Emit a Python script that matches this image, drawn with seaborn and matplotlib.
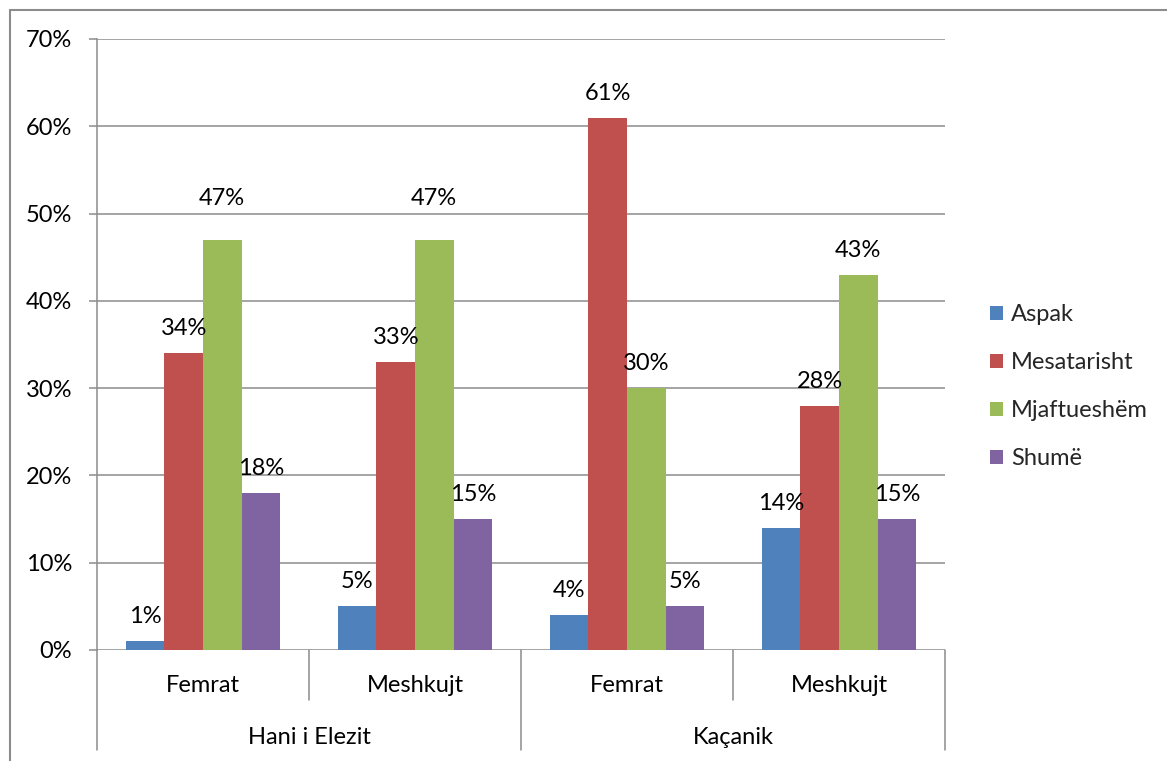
import matplotlib
matplotlib.use("Agg")
import matplotlib.pyplot as plt
from matplotlib.lines import Line2D
from matplotlib.patches import Patch
from matplotlib.ticker import PercentFormatter
import pandas as pd
import seaborn as sns

# Survey answers, percent of respondents
places = ["Hani i Elezit", "Kaçanik"]
genders = ["Femrat", "Meshkujt"]
answers = ["Aspak", "Mesatarisht", "Mjaftueshëm", "Shumë"]
aspak = [1, 5, 4, 14]
mesatarisht = [34, 33, 61, 28]
mjaftueshem = [47, 47, 30, 43]
shume = [18, 15, 5, 15]
y_ticks = [0, 10, 20, 30, 40, 50, 60, 70]

colors = ["#4F81BD", "#C0504D", "#9BBB59", "#8064A2"]
grid_gray = "#8C8C8C"

# long-form table: one row per bar
keys = [f"{p} | {g}" for p in places for g in genders]
rows = []
for ans, vals in zip(answers, [aspak, mesatarisht, mjaftueshem, shume]):
    for k, v in zip(keys, vals):
        rows.append({"key": k, "answer": ans, "value": v})
df = pd.DataFrame(rows)

sns.set_theme(style="white")
plt.rcParams["font.family"] = ["Lato", "DejaVu Sans"]
FS = 17

fig = plt.figure(figsize=(11.67, 7.61), dpi=100)
W, H = 1167, 761
ax = fig.add_axes([97 / W, 1 - 650 / H, (945 - 97) / W, (650 - 39) / H])

sns.barplot(data=df, x="key", y="value", hue="answer", order=keys,
            hue_order=answers, palette=colors, width=0.727, saturation=1,
            linewidth=0, ax=ax, legend=False)

ax.set_xlim(-0.5, len(keys) - 0.5)
ax.set_ylim(0, 70)
ax.set_yticks(y_ticks)
ax.yaxis.set_major_formatter(PercentFormatter(decimals=0))
ax.set_xlabel("")
ax.set_ylabel("")
ax.set_xticks([])
ax.set_axisbelow(True)
ax.yaxis.grid(True, color=grid_gray, linewidth=1.1)
ax.tick_params(axis="y", length=5.8, width=1.1, color=grid_gray, pad=12,
               labelsize=FS, labelcolor="black", left=True)
for side in ["top", "right", "bottom"]:
    ax.spines[side].set_visible(False)
ax.spines["left"].set_color(grid_gray)
ax.spines["left"].set_linewidth(1.1)

# value labels above each bar
for cont in ax.containers:
    for bar in cont:
        h = bar.get_height()
        lift = 22 if h == 47 else 10
        ax.annotate(f"{h:.0f}%", (bar.get_x() + bar.get_width() / 2, h),
                    xytext=(0, lift), textcoords="offset points",
                    ha="center", va="bottom", fontsize=FS, color="black")

# two-level category axis below the plot
xt = ax.get_xaxis_transform()
for i, b in enumerate([-0.5, 0.5, 1.5, 2.5, 3.5]):
    low = -0.1637 if i % 2 == 0 else -0.0818
    ax.add_line(Line2D([b, b], [0, low], transform=xt, color=grid_gray,
                       linewidth=1.1, clip_on=False))
for i, k in enumerate(keys):
    ax.text(i, -0.0589, k.split(" | ")[1], transform=xt, ha="center",
            va="center", fontsize=FS, color="black")
for j, p in enumerate(places):
    ax.text(2 * j + 0.5, -0.1424, p, transform=xt, ha="center",
            va="center", fontsize=FS, color="black")

# legend on the right
handles = [Patch(facecolor=c, edgecolor="none") for c in colors]
fig.legend(handles, answers, loc="upper left",
           bbox_to_anchor=(990 / W, 1 - 304 / H), frameon=False,
           fontsize=FS, handlelength=0.55, handleheight=0.55,
           handletextpad=0.34, labelspacing=1.15, borderpad=0,
           borderaxespad=0)

# outer chart frame
fig.add_artist(Line2D([9.5 / W, 9.5 / W], [0, 1 - 9.5 / H],
                      transform=fig.transFigure, color=grid_gray, lw=1.5))
fig.add_artist(Line2D([9.5 / W, 1], [1 - 9.5 / H, 1 - 9.5 / H],
                      transform=fig.transFigure, color=grid_gray, lw=1.5))

fig.savefig("out.png", dpi=100, facecolor="white")
